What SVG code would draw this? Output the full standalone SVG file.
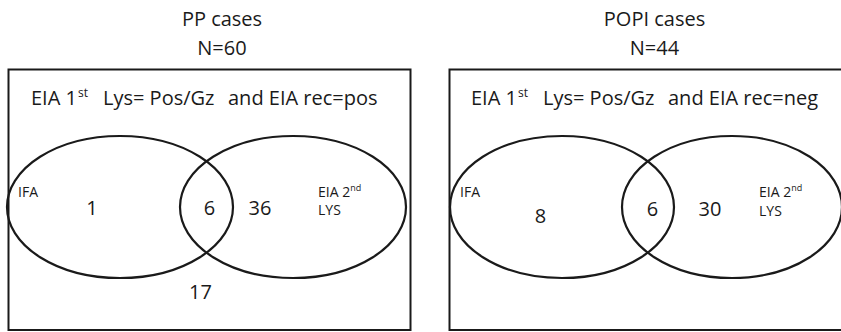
<svg xmlns="http://www.w3.org/2000/svg" width="841" height="332" viewBox="0 0 841 332">
  <style>
    .frame { fill: none; stroke: #1a1a1a; stroke-width: 2; }
    .set { fill: none; stroke: #1a1a1a; stroke-width: 2.2; }
    text { font-family: "Open Sans", "Noto Sans", sans-serif; fill: #1a1a1a; }
    .title { font-size: 20px; text-anchor: middle; }
    .cond { font-size: 20px; }
    .sup { font-size: 12px; }
    .lbl { font-size: 14px; }
    .lsup { font-size: 9px; }
    .num { font-size: 20px; text-anchor: middle; }
  </style>
  <rect width="841" height="332" fill="#ffffff"/>

  <!-- PP panel -->
  <g id="pp-panel">
    <text class="title" x="222" y="26">PP cases</text>
    <text class="title" x="222" y="55">N=60</text>
    <rect class="frame" x="8.5" y="69.5" width="402" height="260.5"/>
    <text class="cond" y="105"><tspan x="31">EIA 1</tspan><tspan class="sup" x="78" dy="-8">st</tspan><tspan x="103" dy="8">Lys= Pos/Gz</tspan><tspan x="228">and EIA rec=pos</tspan></text>
  </g>
  <g id="pp-ifa">
    <ellipse class="set" cx="120" cy="207" rx="113" ry="71"/>
    <text class="lbl" x="18" y="197">IFA</text>
  </g>
  <g id="pp-eia2">
    <ellipse class="set" cx="293" cy="207" rx="113" ry="71"/>
    <text class="lbl" y="197"><tspan x="318">EIA 2</tspan><tspan class="lsup" dy="-6">nd</tspan></text>
    <text class="lbl" x="318" y="215">LYS</text>
  </g>
  <g id="pp-counts">
    <text class="num" x="92" y="215">1</text>
    <text class="num" x="209.5" y="215">6</text>
    <text class="num" x="260" y="215">36</text>
    <text class="num" x="200.5" y="299">17</text>
  </g>

  <!-- POPI panel -->
  <g id="popi-panel">
    <text class="title" x="654.5" y="26">POPI cases</text>
    <text class="title" x="654.5" y="55">N=44</text>
    <rect class="frame" x="449.5" y="69.5" width="402" height="260.5"/>
    <text class="cond" y="105"><tspan x="471">EIA 1</tspan><tspan class="sup" x="518" dy="-8">st</tspan><tspan x="543" dy="8">Lys= Pos/Gz</tspan><tspan x="668">and EIA rec=neg</tspan></text>
  </g>
  <g id="popi-ifa">
    <ellipse class="set" cx="562" cy="207" rx="112" ry="71"/>
    <text class="lbl" x="460" y="197">IFA</text>
  </g>
  <g id="popi-eia2">
    <ellipse class="set" cx="732" cy="207" rx="110" ry="71"/>
    <text class="lbl" y="197"><tspan x="759">EIA 2</tspan><tspan class="lsup" dy="-6">nd</tspan></text>
    <text class="lbl" x="759" y="216">LYS</text>
  </g>
  <g id="popi-counts">
    <text class="num" x="540.5" y="223">8</text>
    <text class="num" x="652.5" y="216">6</text>
    <text class="num" x="710" y="216">30</text>
  </g>

  <g id="connectors"/>
</svg>
